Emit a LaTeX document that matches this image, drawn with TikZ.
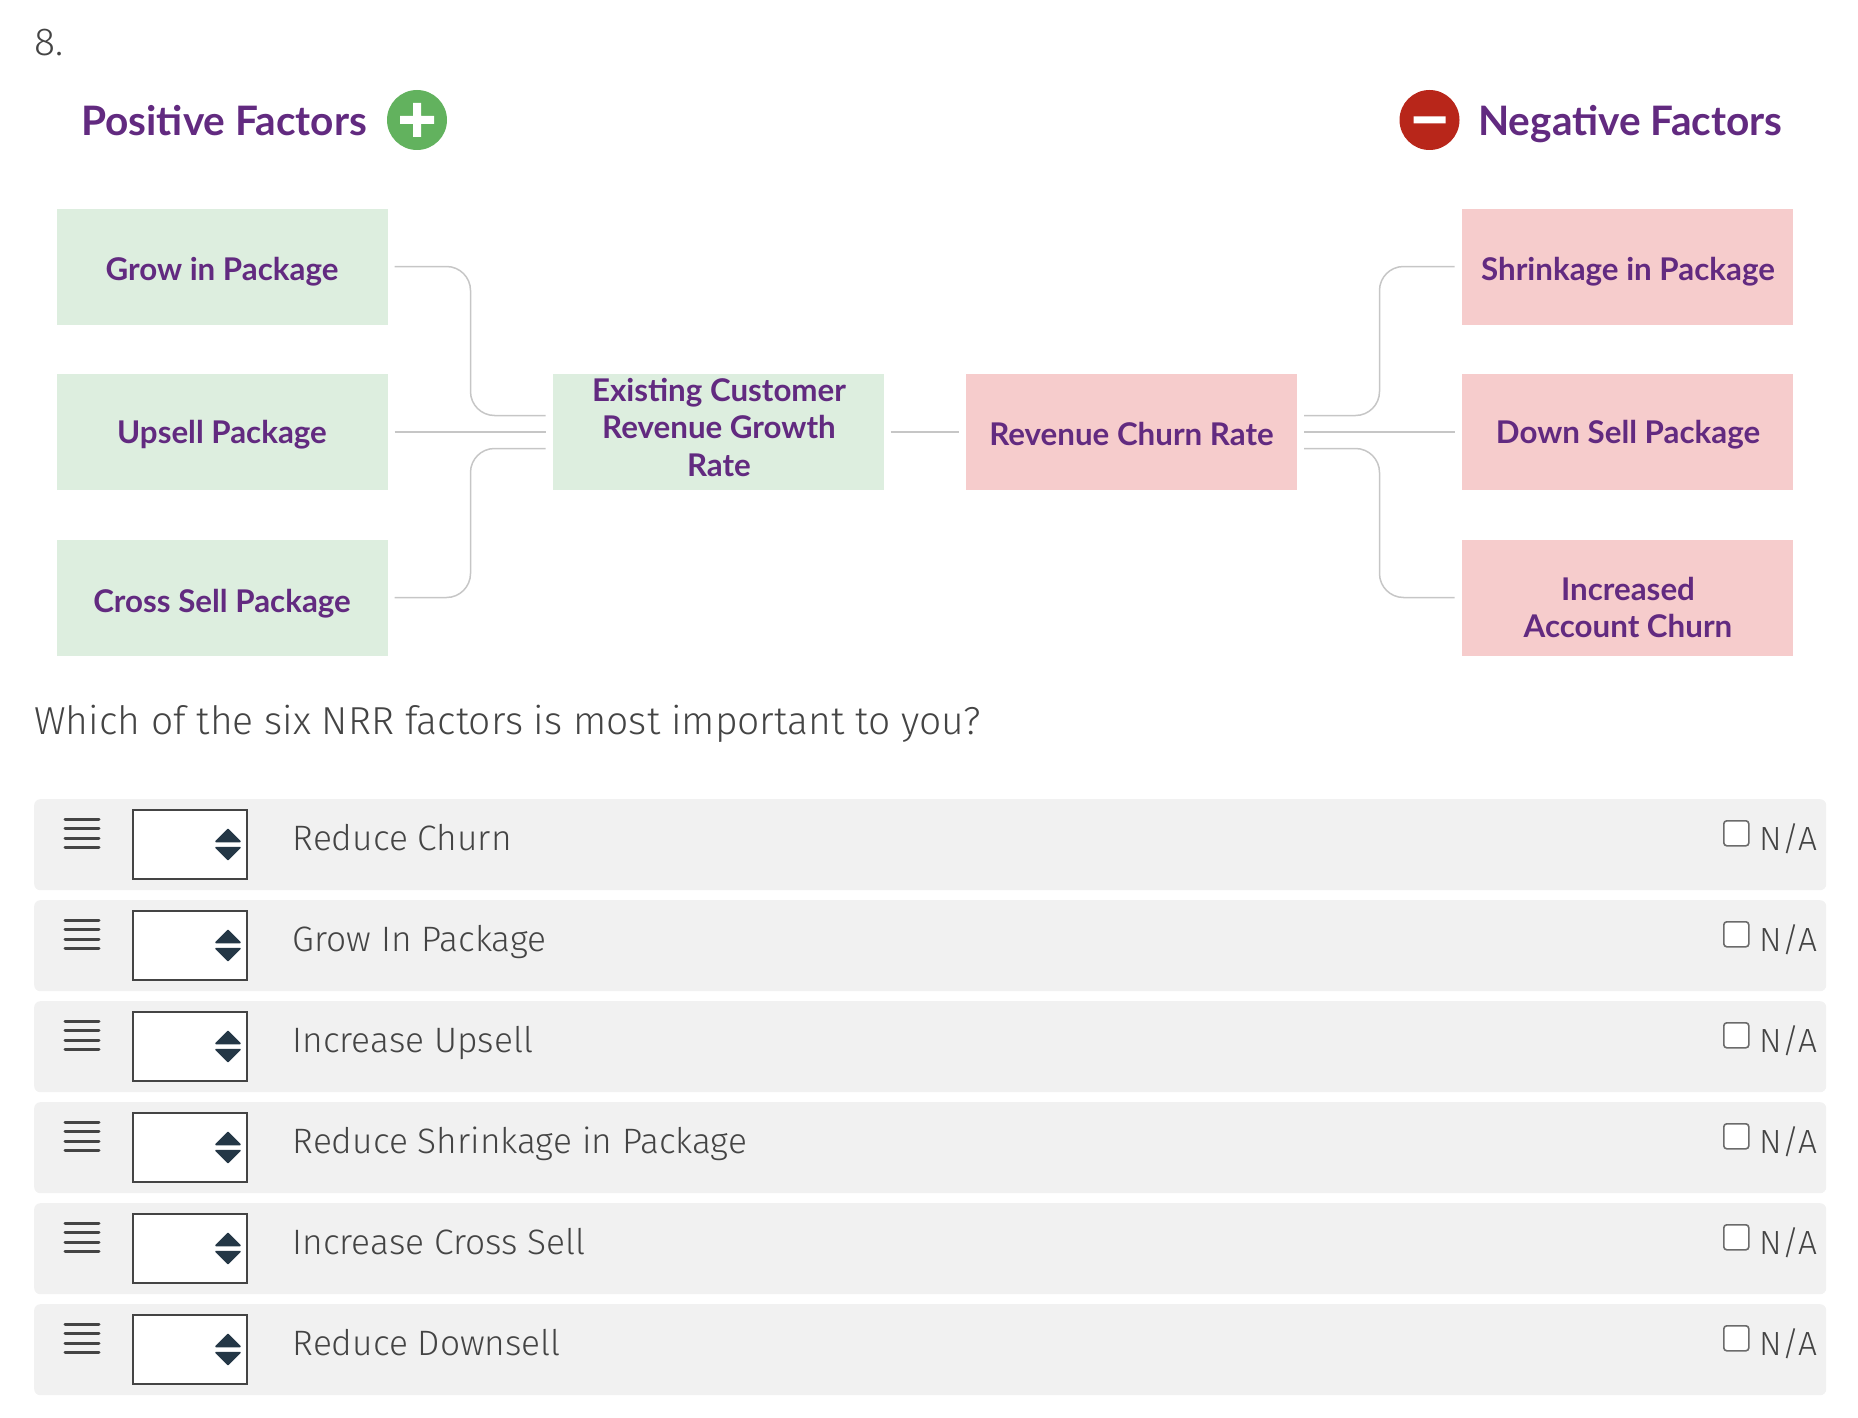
\documentclass[tikz,border=0pt]{standalone}
\usepackage{fontspec}
\setmainfont{Lato}
\newfontfamily\formfont[UprightFont=* Light]{Fira Sans}
\usetikzlibrary{
    calc, % for the three ends on the side of a box
    positioning % for placing nodes relative to other nodes
}
\definecolor{factorpurple}{HTML}{622A80}
\definecolor{plusgreen}{HTML}{62B25E}
\definecolor{minusred}{HTML}{B8261A}
\definecolor{boxgreen}{HTML}{DDEEDF}
\definecolor{boxpink}{HTML}{F6CCCC}
\definecolor{linkgrey}{HTML}{C6C6C6}
\definecolor{rowgrey}{HTML}{F1F1F1}
\definecolor{formtext}{HTML}{444444}
\definecolor{spinblue}{HTML}{243746}

\begin{document}
\begin{tikzpicture}[
        x=1pt,y=-1pt,
        node distance=165.5pt and 331pt,on grid,
        factor box/.style   = {minimum width=331pt,minimum height=116pt,inner sep=0pt,outer sep=7pt},
        plus box/.style     = {factor box,fill=boxgreen},
        minus box/.style    = {factor box,fill=boxpink},
        box text/.style     = {text=factorpurple,font=\fontsize{31.3}{37.5}\selectfont\bfseries,align=center},
        heading/.style      = {text=factorpurple,font=\fontsize{40.6}{46}\selectfont\bfseries,inner sep=0pt,anchor=base west},
        link/.style         = {draw=linkgrey,line width=1.5pt,rounded corners=24pt},
        form text/.style    = {text=formtext,font=\formfont\fontsize{35.3}{40}\selectfont,inner sep=0pt,anchor=base west},
        big text/.style     = {form text,font=\formfont\fontsize{39}{44}\selectfont},
        small text/.style   = {form text,font=\formfont\fontsize{33.5}{38}\selectfont},
        row back/.style     = {fill=rowgrey,rounded corners=6pt,minimum width=1792pt,minimum height=91pt,inner sep=0pt,anchor=north west},
        select box/.style   = {draw=formtext,line width=2.2pt,fill=white,minimum width=114pt,minimum height=69pt,inner sep=0pt,anchor=north west},
        tick box/.style     = {draw=black!58,line width=1.6pt,fill=white,rounded corners=3pt,minimum size=25pt,inner sep=0pt,anchor=north west},
        bars/.style         = {draw=formtext,line width=3pt,line cap=round},
        spinner/.style      = {fill=spinblue,draw=spinblue,line width=1.5pt,line join=round}
    ]
    \useasboundingbox (0,0) rectangle (1858,1418);

    % Headings

        \node [big text] (number) at (34,56) {8.};
        \node [heading] (poshead) at (81,136) {Positive Factors};
        \node [heading] (neghead) at (1478,136) {Negative Factors};
        \node [circle,fill=plusgreen,minimum size=60pt,inner sep=0pt] (plusicon) at (417,120) {};
        \node [circle,fill=minusred,minimum size=60pt,inner sep=0pt] (minusicon) at (1429.5,120) {};
        \fill [white] ($(plusicon)+(-17,-4)$) rectangle ($(plusicon)+(17,4)$)
                      ($(plusicon)+(-4,-17)$) rectangle ($(plusicon)+(4,17)$)
                      ($(minusicon)+(-16,-3.5)$) rectangle ($(minusicon)+(16,3.5)$);

    % Factor boxes

        \node [plus box] (grow) at (222,266.5) [label={[box text,yshift=-5pt]center:Grow in Package}] {};
        \node [plus box] (upsell) [below=of grow] [label={[box text,yshift=-3pt]center:Upsell Package}] {};
        \node [plus box] (cross) [below=of upsell] [label={[box text,yshift=-6pt]center:Cross Sell Package}] {};
        \node [plus box] (growth) at (718,432) [label={[box text,yshift=5pt,xshift=1pt]center:Existing Customer\\Revenue Growth\\Rate}] {};
        \node [minus box] (churn) at (1131.5,432) [label={[box text,yshift=-2pt]center:Revenue Churn Rate}] {};
        \node [minus box] (shrink) at (1627,266.5) [label={[box text,yshift=-5pt,xshift=1pt]center:Shrinkage in Package}] {};
        \node [minus box] (down) [below=of shrink] [label={[box text,yshift=-3pt,xshift=1pt]center:Down Sell Package}] {};
        \node [minus box] (account) [below=of down] [label={[box text,yshift=-10pt,xshift=1pt]center:Increased\\Account Churn}] {};

    % Connectors

        \coordinate (growthup) at ($(growth.west)+(0,-16.5)$);
        \coordinate (growthdn) at ($(growth.west)+(0,16.5)$);
        \coordinate (churnup)  at ($(churn.east)+(0,-16.5)$);
        \coordinate (churndn)  at ($(churn.east)+(0,16.5)$);
        \draw [link] (grow.east) -- ++(76,0) |- (growthup);
        \draw [link] (upsell.east) -- (growth.west);
        \draw [link] (cross.east) -- ++(76,0) |- (growthdn);
        \draw [link] (growth.east) -- (churn.west);
        \draw [link] (shrink.west) -- ++(-75,0) |- (churnup);
        \draw [link] (down.west) -- (churn.east);
        \draw [link] (account.west) -- ++(-75,0) |- (churndn);

    % Question and ranking rows

        \node [big text] (question) at (34,734) {Which of the six NRR factors is most important to you?};

        \foreach \i/\rowlabel in {0/Reduce Churn,1/Grow In Package,2/Increase Upsell,3/Reduce Shrinkage in Package,4/Increase Cross Sell,5/Reduce Downsell} {
            \node [row back] (row\i) at (34,799+101*\i) {};
            \node [select box] (sel\i) at (132,809+101*\i) {};
            \node [form text] (name\i) at (292.5,850+101*\i) {\rowlabel};
            \node [tick box] (tick\i) at (1723,820+101*\i) {};
            \node [small text] (na\i) at (1759,850+101*\i) {N/A};
            \coordinate (spin\i) at (228,844.5+101*\i);
            \fill [spinner] ($(spin\i)+(-12,-3)$) -- ($(spin\i)+(12,-3)$) -- ($(spin\i)+(0,-15)$) -- cycle;
            \fill [spinner] ($(spin\i)+(-12,3)$) -- ($(spin\i)+(12,3)$) -- ($(spin\i)+(0,15)$) -- cycle;
            \foreach \j in {0,1,2,3}
                \draw [bars] (65,819+101*\i+9.6*\j) -- (99,819+101*\i+9.6*\j);
        }

\end{tikzpicture}
\end{document}
